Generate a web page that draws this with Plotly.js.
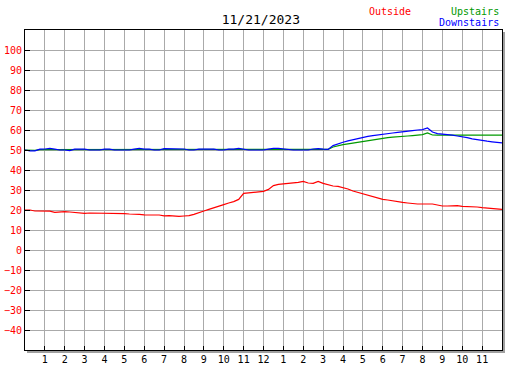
<!DOCTYPE html>
<html>
<head>
<meta charset="utf-8">
<script src="https://cdn.plot.ly/plotly-3.0.1.min.js"></script>
<style>html,body{margin:0;padding:0;background:#fff;}#chart{width:527px;height:370px;}</style>
</head>
<body>
<div id="chart"></div>
<script>
// Time of day in hours (0 = midnight)
const hours = [0,0.25,0.5,0.75,1,1.25,1.5,1.75,2,2.25,2.5,2.75,3,3.25,3.5,3.75,4,4.25,4.5,4.75,5,5.25,5.5,5.75,6,6.25,6.5,6.75,7,7.25,7.5,7.75,8,8.25,8.5,8.75,9,9.25,9.5,9.75,10,10.25,10.5,10.75,11,11.25,11.5,11.75,12,12.25,12.5,12.75,13,13.25,13.5,13.75,14,14.25,14.5,14.75,15,15.25,15.5,15.75,16,16.25,16.5,16.75,17,17.25,17.5,17.75,18,18.25,18.5,18.75,19,19.25,19.5,19.75,20,20.25,20.5,20.75,21,21.25,21.5,21.75,22,22.25,22.5,22.75,23,23.25,23.5,23.75,24];

const outside = [20,20,19.5,19.5,19.2,19.4,18.8,19.0,19.2,19.0,18.7,18.5,18.3,18.5,18.5,18.2,18.3,18.3,18.2,18.2,18.2,18.0,18.0,17.8,17.6,17.7,17.5,17.5,17.1,17.2,17.0,16.8,17.0,17.2,17.8,18.5,19.5,20.3,21.0,21.8,22.7,23.5,24.2,25.3,28.3,28.6,28.8,28.8,29.3,30.3,32.2,32.8,33.0,33.2,33.3,33.8,34.3,33.5,33.3,34.3,33.3,32.5,32.0,31.8,31.3,30.5,29.5,28.8,28.0,27.2,26.5,25.8,25.3,25.0,24.5,24.2,23.8,23.5,23.2,23.0,23.0,23.0,23.0,22.5,22.0,22.0,22.0,22.2,21.8,21.8,21.7,21.5,21.2,21.0,20.7,20.3,20.3];

const upstairs = [50,49.8,49.8,50.2,50.2,50.2,50,50,50,50,50,50,50,50,50,50,50,50,50,50,50,50,50,50,50,50,50,50,50,50,50,50,50,50,50,50,50,50,50,50,50,50,50,50,50,50,50,50,50,50,50,50.3,50.3,50.3,50.3,50.3,50.3,50.3,50.3,50.3,50.3,50.3,51.5,52.2,52.7,53.1,53.5,53.9,54.3,54.8,55.2,55.6,55.9,56.2,56.4,56.7,56.9,57.0,57.2,57.4,57.7,58.5,57.5,57.4,57.4,57.4,57.4,57.4,57.2,57.4,57.4,57.4,57.4,57.4,57.4,57.4,57.4];

const downstairs = [50,49.6,49.6,50.4,50.5,50.8,50.4,50,50,49.7,50.4,50.4,50.4,50,50,50,50.4,50.4,50,50,50,50,50.4,50.8,50.4,50.4,50,50,50.7,50.7,50.7,50.7,50.5,50,50,50.4,50.4,50.7,50.4,50,50,50.4,50.4,50.8,50.4,50,50,50,50,50.4,50.8,50.8,50.5,50.4,50,50,50,50,50.5,50.7,50.4,50.3,52.2,53.2,53.9,54.6,55.2,55.8,56.3,56.8,57.2,57.6,58.0,58.2,58.5,58.8,59.0,59.4,59.7,60.0,60.2,61.0,59.0,58.2,58.0,57.7,57.4,57.0,56.7,56.2,55.6,55.1,54.7,54.4,54.1,53.8,53.6];

const xTickVals = [1,2,3,4,5,6,7,8,9,10,11,12,13,14,15,16,17,18,19,20,21,22,23];
const xTickText = ['1','2','3','4','5','6','7','8','9','10','11','12','1','2','3','4','5','6','7','8','9','10','11'];
const yTickVals = [-40,-30,-20,-10,0,10,20,30,40,50,60,70,80,90,100];

const FONT = 'DejaVu Sans Mono, Liberation Mono, monospace';

const traces = [
  {x: hours, y: outside, mode: 'lines', line: {color: '#ff0000', width: 1.2}, name: 'Outside'},
  {x: hours, y: upstairs, mode: 'lines', line: {color: '#009900', width: 1.2}, name: 'Upstairs'},
  {x: hours, y: downstairs, mode: 'lines', line: {color: '#0000ff', width: 1.2}, name: 'Downstairs'}
];

const layout = {
  width: 527, height: 370,
  margin: {l: 25, r: 25, t: 30, b: 20, pad: 0},
  paper_bgcolor: '#ffffff', plot_bgcolor: '#ffffff',
  showlegend: false,
  font: {family: FONT, size: 10, color: '#000'},
  title: {text: '11/21/2023', font: {family: FONT, size: 13, color: '#000'},
          x: 0.495, xanchor: 'center', xref: 'container', y: 1 - 19.5/370, yanchor: 'middle', yref: 'container'},
  xaxis: {
    range: [0, 24], tickvals: xTickVals, ticktext: xTickText,
    ticks: 'inside', ticklen: 4, tickcolor: '#000', tickwidth: 1,
    showgrid: true, gridcolor: '#aaaaaa', gridwidth: 1,
    showline: true, linecolor: '#000', linewidth: 1, mirror: true,
    zeroline: false, tickfont: {family: FONT, size: 10, color: '#000'}, fixedrange: true
  },
  yaxis: {
    range: [-50, 110], tickvals: yTickVals,
    ticks: 'inside', ticklen: 5, tickcolor: '#000', tickwidth: 1,
    showgrid: true, gridcolor: '#aaaaaa', gridwidth: 1,
    showline: true, linecolor: '#000', linewidth: 1, mirror: true,
    zeroline: false, tickfont: {family: FONT, size: 10, color: '#ff0000'}, fixedrange: true
  },
  annotations: [
    {text: 'Outside', xref: 'paper', yref: 'paper', x: (390-25)/477, y: (350-11)/320, xanchor: 'center', yanchor: 'middle', showarrow: false, font: {family: FONT, size: 10, color: '#ff0000'}},
    {text: 'Upstairs', xref: 'paper', yref: 'paper', x: (501-25)/477, y: (350-11)/320, xanchor: 'right', yanchor: 'middle', showarrow: false, font: {family: FONT, size: 10, color: '#009900'}},
    {text: 'Downstairs', xref: 'paper', yref: 'paper', x: (501-25)/477, y: (350-23)/320, xanchor: 'right', yanchor: 'middle', showarrow: false, font: {family: FONT, size: 10, color: '#0000ff'}}
  ],
  shapes: [
    {type: 'rect', xref: 'paper', yref: 'paper', x0: (503-25)/477, x1: (505-25)/477, y0: (350-353)/320, y1: (350-32)/320, fillcolor: '#a0a0a0', line: {width: 0}},
    {type: 'rect', xref: 'paper', yref: 'paper', x0: (27-25)/477, x1: (505-25)/477, y0: (350-353)/320, y1: (350-351)/320, fillcolor: '#a0a0a0', line: {width: 0}}
  ]
};

Plotly.newPlot('chart', traces, layout, {staticPlot: true, displayModeBar: false});
</script>
</body>
</html>
